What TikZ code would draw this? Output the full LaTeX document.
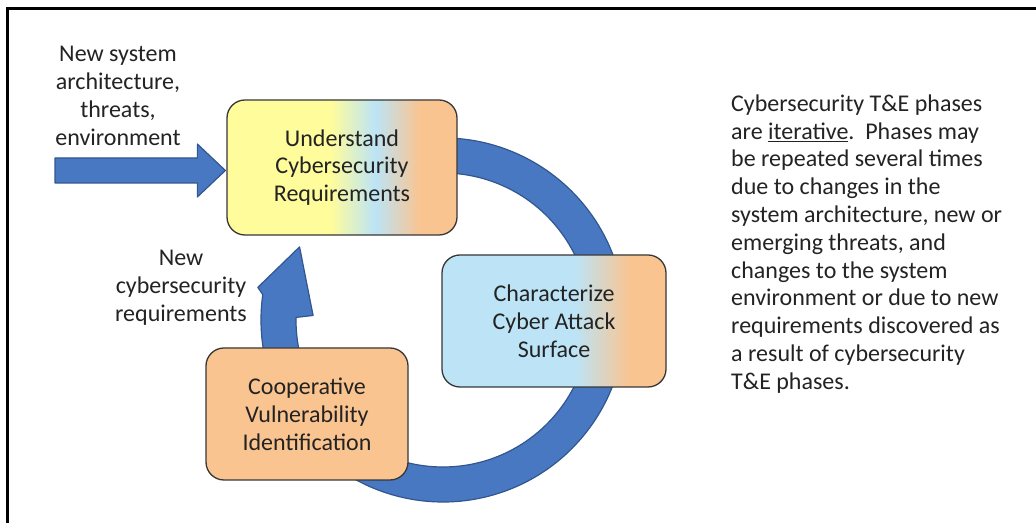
\documentclass[tikz,border=0pt]{standalone}
\usepackage{fontspec}
\setmainfont{Carlito}
\definecolor{ringblue}{RGB}{72,120,194}
\definecolor{ringedge}{RGB}{50,86,142}
\definecolor{pyellow}{RGB}{255,252,155}
\definecolor{pblue}{RGB}{188,228,246}
\definecolor{porange}{RGB}{250,196,144}
\definecolor{txt}{RGB}{35,35,35}
\definecolor{boxedge}{RGB}{55,55,55}
\pgfdeclarehorizontalshading{boxone}{100bp}{color(0bp)=(pyellow); color(47.5bp)=(pyellow); color(57.2bp)=(pblue); color(67bp)=(porange); color(100bp)=(porange)}
\pgfdeclarehorizontalshading{boxtwo}{100bp}{color(0bp)=(pblue); color(54.7bp)=(pblue); color(67bp)=(porange); color(100bp)=(porange)}
\newcommand\bodyfont{\fontsize{24bp}{27.8bp}\selectfont}
\tikzset{
  phase/.style={rounded corners=18bp, draw=boxedge, line width=1.3bp, align=center, text=txt, font=\bodyfont, inner sep=0pt},
  lbl/.style={align=center, text=txt, font=\bodyfont, inner sep=0pt},
  bluearrow/.style={fill=ringblue, draw=ringedge, line width=1.2bp, line join=round}
}
\begin{document}
\begin{tikzpicture}[x=1bp,y=1bp]
\useasboundingbox (0,0) rectangle (1036,523);
\fill[white] (0,0) rectangle (1036,523);
\draw[line width=3bp] (7.7,0) -- (7.7,514.5) -- (1036,514.5);

% ring arrow (behind boxes)
\coordinate (c) at (443,203);
\filldraw[bluearrow]
  ([shift={(100:182)}]c) arc[start angle=100, end angle=-188, radius=182]
  -- ([shift={(170:188)}]c) -- ([shift={(153:161)}]c) -- ([shift={(178:130)}]c)
  -- ([shift={(179:147)}]c) arc[start angle=-181, end angle=100, radius=147] -- cycle;

% boxes
\node[phase, shade, shading=boxone, minimum width=230bp, minimum height=135bp] (ucr) at (342,355.5) {Understand\\Cybersecurity\\Requirements};
\node[phase, shade, shading=boxtwo, minimum width=224bp, minimum height=132bp] (cas) at (554,202) {Characterize\\Cyber Attack\\Surface};
\node[phase, fill=porange, minimum width=202bp, minimum height=132bp] (cvi) at (307,109) {Cooperative\\Vulnerability\\Identification};

% input arrow
\coordinate (inA) at (55,352.5);
\coordinate (tipA) at ([xshift=-1bp]inA -| ucr.west);
\filldraw[bluearrow]
  ([yshift=-12.5bp]inA) -- ([xshift=-28bp,yshift=-12.5bp]tipA) -- ([xshift=-28bp,yshift=-26.5bp]tipA)
  -- (tipA) -- ([xshift=-28bp,yshift=26.5bp]tipA)
  -- ([xshift=-28bp,yshift=12.5bp]tipA) -- ([yshift=12.5bp]inA) -- cycle;

% labels
\node[lbl] (newsys) at (118,427) {New system\\architecture,\\threats,\\environment};
\node[lbl] (newreq) at (181,235) {New\\cybersecurity\\requirements};
\node[lbl, anchor=west, align=left] (note) at (731,279) {Cybersecurity T\&E phases\\are \underline{iterative}.\ \ Phases may\\be repeated several times\\due to changes in the\\system architecture, new or\\emerging threats, and\\changes to the system\\environment or due to new\\requirements discovered as\\a result of cybersecurity\\T\&E phases.};
\end{tikzpicture}
\end{document}
